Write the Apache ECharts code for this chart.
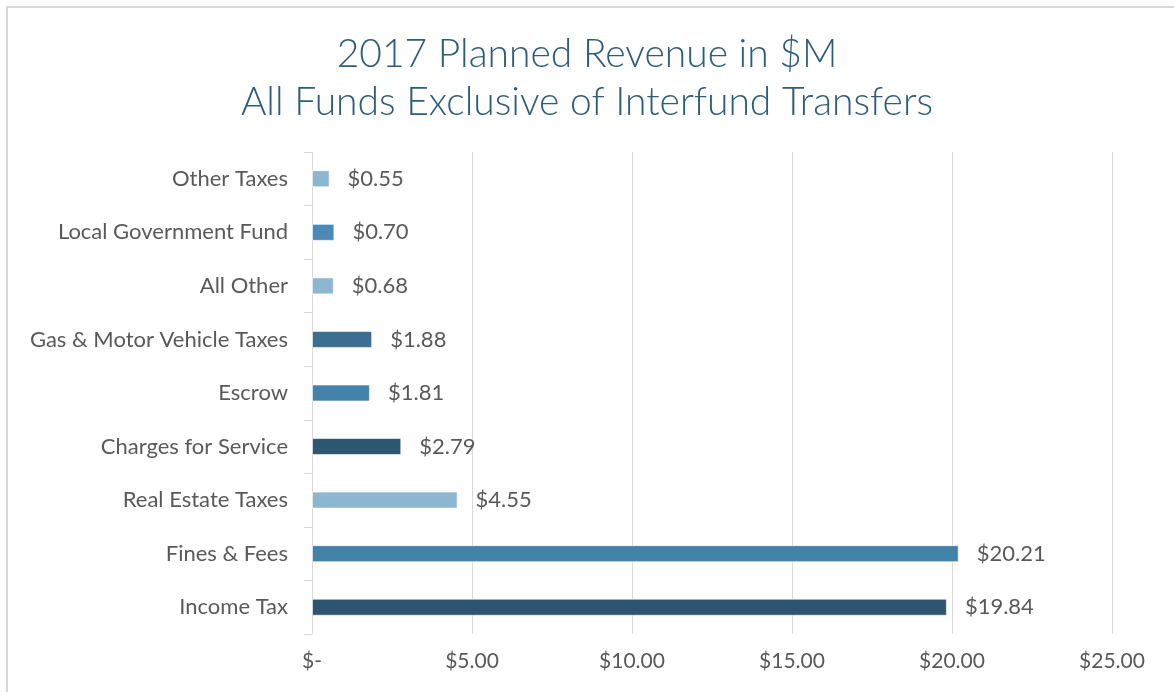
<!DOCTYPE html>
<html>
<head>
<meta charset="utf-8">
<script src="https://cdn.jsdelivr.net/npm/echarts@6/dist/echarts.min.js"></script>
<style>
  html, body { margin: 0; padding: 0; background: #fff; overflow: hidden; }
  #frame {
    position: absolute; left: 6px; top: 6px; width: 1200px; height: 720px;
    border: 2px solid #d9d9d9; box-sizing: border-box;
  }
  #chart { position: absolute; left: 0; top: 0; width: 1174px; height: 692px; }
</style>
</head>
<body>
<div id="frame"></div>
<div id="chart"></div>
<script>
// bottom to top, as the category axis draws them
const categories = [
  'Income Tax',
  'Fines & Fees',
  'Real Estate Taxes',
  'Charges for Service',
  'Escrow',
  'Gas & Motor Vehicle Taxes',
  'All Other',
  'Local Government Fund',
  'Other Taxes'
];
const revenue = [19.84, 20.21, 4.55, 2.79, 1.81, 1.88, 0.68, 0.70, 0.55];
const barColors = [
  '#2d5470', '#4382a8', '#8db6d0', '#2d5670', '#4382ab',
  '#3b6e91', '#8db6d0', '#4a8ab8', '#8db6d0'
];
const titleLines = ['2017 Planned Revenue in $M', 'All Funds Exclusive of Interfund Transfers'];

const textColor = '#595959';
const gridColor = '#d9d9d9';
const font = 'Lato';

const money = v => (v === 0 ? '$-' : '$' + v.toFixed(2));

const chart = echarts.init(document.getElementById('chart'), null, { renderer: 'canvas' });

chart.setOption({
  animation: false,
  title: {
    text: titleLines.join('\n'),
    left: 'center',
    top: 25,
    textStyle: {
      color: '#2e5c7a',
      fontFamily: font,
      fontWeight: 300,
      fontSize: 39,
      lineHeight: 48
    }
  },
  grid: { left: 312, right: 62, top: 152, bottom: 58, containLabel: false },
  xAxis: {
    type: 'value',
    min: 0,
    max: 25,
    interval: 5,
    axisLine: { show: false },
    axisTick: { show: false },
    axisLabel: {
      color: textColor,
      fontFamily: font,
      fontSize: 21,
      margin: 17,
      formatter: money
    },
    splitLine: { show: true, lineStyle: { color: gridColor, width: 1 } }
  },
  yAxis: {
    type: 'category',
    data: categories,
    axisLine: { show: true, lineStyle: { color: gridColor, width: 1 } },
    axisTick: { show: true, length: 8, lineStyle: { color: gridColor } },
    axisLabel: {
      color: textColor,
      fontFamily: font,
      fontSize: 22,
      margin: 24
    },
    splitLine: { show: false }
  },
  series: [
    {
      type: 'bar',
      data: revenue.map((v, i) => ({ value: v, itemStyle: { color: barColors[i] } })),
      barWidth: 17,
      itemStyle: { borderColor: 'rgba(255,255,255,0.6)', borderWidth: 1 },
      label: {
        show: true,
        position: 'right',
        distance: 18,
        color: textColor,
        fontFamily: font,
        fontSize: 22,
        formatter: p => money(p.value)
      }
    }
  ]
});
</script>
</body>
</html>
